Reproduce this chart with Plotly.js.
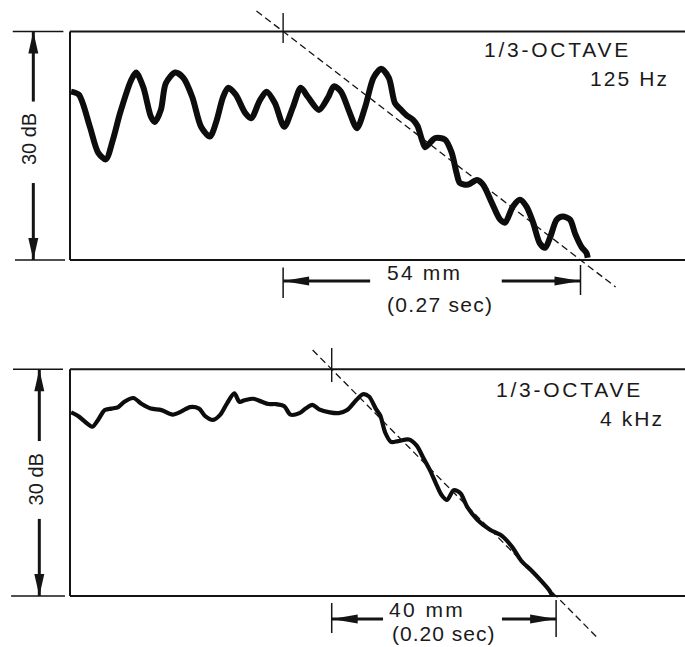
<!DOCTYPE html>
<html><head><meta charset="utf-8">
<script src="https://cdn.plot.ly/plotly-3.0.1.min.js"></script>
<style>html,body{margin:0;padding:0;background:#fff;}#chart{width:685px;height:647px;}</style>
</head><body><div id="chart"></div>
<script>
// ---- data: level (dB above floor) vs chart distance (mm) ----
const dist125 = [0.2,1.6,3.6,5.1,6.5,7.8,9.1,11.1,12.0,13.3,14.7,15.4,16.5,17.4,19.1,20.6,22.2,23.8,25.4,26.5,27.8,28.7,30.1,31.8,32.9,34.5,35.7,37.2,38.9,40.5,41.9,43.2,45.2,46.9,47.9,49.2,50.8,52.1,53.6,55.1,56.5,57.9,59.0,60.0,61.1,62.3,63.1,63.9,64.5,66.3,68.1,69.3,70.2,70.8,72.3,73.9,75.0,76.6,78.1,79.0,80.4,81.7,82.9,84.1,85.3,86.3,87.2,88.4,89.5,90.8,91.7,92.9,93.8,94.0];
const level125 = [22.1,21.7,17.5,14.1,13.2,15.8,19.3,23.6,24.6,22.7,18.8,18.1,19.7,23.2,24.6,23.9,21.4,17.5,16.2,18.0,21.4,22.6,21.7,19.3,18.6,21.0,22.1,20.6,17.5,20.1,22.6,21.4,19.7,21.4,22.8,22.1,19.3,17.3,20.1,23.9,25.1,23.9,20.6,19.8,19.0,18.4,17.6,15.8,14.8,16.0,15.8,14.1,11.4,10.1,9.9,10.5,9.9,7.5,5.3,4.9,7.0,7.9,7.0,4.9,2.2,1.6,3.0,5.3,5.7,5.3,3.5,1.7,0.9,0.3];
const dist4k = [0.2,1.5,3.1,4.0,5.0,6.2,7.4,8.6,9.7,11.3,12.8,14.4,16.3,18.3,19.8,21.4,23.0,24.1,25.5,26.8,28.0,29.3,30.2,31.1,32.7,34.2,35.4,36.7,38.2,39.3,40.9,42.0,43.2,44.4,46.3,47.9,49.4,51.0,52.2,53.3,54.5,55.3,56.2,57.2,58.5,60.4,61.8,62.9,64.2,65.4,66.3,67.2,68.4,69.6,70.8,72.6,74.8,77.1,78.8,80.4,82.2,84.0,85.4,86.0];
const level4k = [24.3,23.8,22.8,22.4,23.3,24.6,24.8,25.0,25.7,26.2,25.4,24.8,24.6,24.0,24.4,25.0,24.8,23.8,23.3,24.0,25.5,26.8,25.7,25.9,26.1,25.7,25.4,25.4,25.1,24.0,24.2,24.8,25.3,24.7,24.3,24.2,24.6,25.9,26.7,26.4,24.8,23.9,21.6,20.4,20.5,20.7,19.9,18.4,16.6,14.6,13.3,12.7,14.0,13.6,11.8,10.1,8.8,7.9,6.5,4.7,3.4,2.0,0.8,0.0];

const bandHeader = ['1/3-OCTAVE', '1/3-OCTAVE'];
const bandNames = ['125 Hz', '4 kHz'];
const spanMM = [54, 40];               // decay span read on chart
const spanSec = ['0.27', '0.20'];       // equivalent time
const fitStartMM = [38.7, 46.65];       // where fitted decay line crosses 30 dB
const rangeDB = 30;
const rangeLabel = '30 dB';

// ---- layout geometry ----
const W = 685, H = 647;
const panels = [
  {xa:'x', ya:'y', xr:[-12.711,111.675], yr:[-8.34,34.13], dom:[0.5,1], lw:6,
   arrowX:-6.66, labelX:-7.4, labelY:15.9, upTail:20.8, lowTail:10.1,
   extTop:[-10.4,-1.2], extBot:[-10.0,-0.9], dashY:[32.69,-3.54], tickY:[32.43,28.49],
   dimL:[-1.0,-5.0], dimR:[-0.66,-4.6], dimY:-2.76, tailL:54.5, tailR:78.4,
   t1:[64.4,-1.68], t2:[67.2,-5.78], h1:[88.6,27.6], h2:[101.6,23.85],
   sp:[2.2,1.3,2.75,2.1]},
  {xa:'x2', ya:'y2', xr:[-12.478,109.626], yr:[-6.75,36.06], dom:[0,0.5], lw:4.2,
   arrowX:-5.47, labelX:-6.1, labelY:15.4, upTail:20.5, lowTail:10.2,
   extTop:[-10.16,-1.25], extBot:[-10.5,-0.9], dashY:[32.55,-5.43], tickY:[32.82,28.32],
   dimL:[-0.93,-4.9], dimR:[-0.53,-5.43], dimY:-3.04, tailL:55.8, tailR:77.0,
   t1:[63.64,-1.85], t2:[66.6,-5.0], h1:[88.95,27.35], h2:[100.2,23.5],
   sp:[2.4,1.0,2.75,2.1]}
];
const dists = [dist125, dist4k], levels = [level125, level4k];
const INK = '#141414';
const FONT = 'Liberation Sans, Arial, Helvetica, sans-serif';

const traces = [], shapes = [], annotations = [];
function line(p, x0, y0, x1, y1, w, dash) {
  shapes.push({type:'line', xref:p.xa, yref:p.ya, x0, y0, x1, y1,
    line:{color:INK, width:w, dash:dash||'solid'}, layer:'above'});
}
function head(p, tx, ty, dir, L, Wd) {
  const sx = W / (p.xr[1]-p.xr[0]);
  const sy = H*(p.dom[1]-p.dom[0]) / (p.yr[1]-p.yr[0]);
  let path;
  if (dir==='left' || dir==='right') {
    const bx = tx + (dir==='left'?1:-1)*L/sx, w = Wd/sy;
    path = `M${tx},${ty} L${bx},${ty+w} L${bx},${ty-w} Z`;
  } else {
    const by = ty + (dir==='down'?1:-1)*L/sy, w = Wd/sx;
    path = `M${tx},${ty} L${tx+w},${by} L${tx-w},${by} Z`;
  }
  shapes.push({type:'path', xref:p.xa, yref:p.ya, path, fillcolor:INK, line:{width:0}, layer:'above'});
}
function label(p, x, y, text, size, spacing, angle) {
  annotations.push({xref:p.xa, yref:p.ya, x, y, showarrow:false, xanchor:'center', yanchor:'middle',
    text: spacing ? `<span style="letter-spacing:${spacing}px">${text}</span>` : text,
    textangle: angle||0, font:{family:FONT, size, color:'#1a1a1a'}});
}

panels.forEach((p, i) => {
  traces.push({type:'scatter', mode:'lines', x:dists[i], y:levels[i], xaxis:p.xa, yaxis:p.ya,
    line:{color:'#0d0d0d', width:p.lw, shape:'spline', smoothing:0.8}, hoverinfo:'skip'});
  const xEnd = p.xr[1];
  // frame
  line(p, 0, rangeDB, xEnd, rangeDB, 2);
  line(p, 0, 0, xEnd, 0, 2);
  line(p, 0, 0, 0, rangeDB, 2);
  // left 30 dB dimension
  line(p, p.extTop[0], rangeDB, p.extTop[1], rangeDB, 1.6);
  line(p, p.extBot[0], 0, p.extBot[1], 0, 1.6);
  line(p, p.arrowX, rangeDB, p.arrowX, p.upTail, 3);
  line(p, p.arrowX, 0, p.arrowX, p.lowTail, 3);
  head(p, p.arrowX, rangeDB, 'up', 22, 5);
  head(p, p.arrowX, 0, 'down', 22, 5);
  label(p, p.labelX, p.labelY, rangeLabel, 20, 0, -90);
  // fitted decay line
  const x0 = fitStartMM[i], x1 = fitStartMM[i] + spanMM[i];
  const xAt = y => x0 + (rangeDB - y) * spanMM[i] / rangeDB;
  line(p, xAt(p.dashY[0]), p.dashY[0], xAt(p.dashY[1]), p.dashY[1], 1.3, '7px,4px');
  line(p, x0, p.tickY[0], x0, p.tickY[1], 1.4);
  // span dimension
  line(p, x0, p.dimL[0], x0, p.dimL[1], 1.5);
  line(p, x1, p.dimR[0], x1, p.dimR[1], 1.5);
  line(p, x0, p.dimY, p.tailL, p.dimY, 3);
  line(p, p.tailR, p.dimY, x1, p.dimY, 3);
  head(p, x0, p.dimY, 'left', 26, 4.5);
  head(p, x1, p.dimY, 'right', 26, 4.5);
  label(p, p.t1[0], p.t1[1], spanMM[i] + ' mm', 21, p.sp[0]);
  label(p, p.t2[0], p.t2[1], '(' + spanSec[i] + ' sec)', 21, p.sp[1]);
  // band labels
  label(p, p.h1[0], p.h1[1], bandHeader[i], 21, p.sp[2]);
  label(p, p.h2[0], p.h2[1], bandNames[i], 21, p.sp[3]);
});

const ax = (r, anchor, extra) => Object.assign({range:r, anchor, visible:false, fixedrange:true,
  showgrid:false, zeroline:false}, extra||{});
const layout = {
  width:W, height:H, margin:{l:0, r:0, t:0, b:0},
  paper_bgcolor:'#ffffff', plot_bgcolor:'#ffffff', showlegend:false,
  xaxis: ax(panels[0].xr, 'y', {domain:[0,1]}),
  yaxis: ax(panels[0].yr, 'x', {domain:panels[0].dom}),
  xaxis2: ax(panels[1].xr, 'y2', {domain:[0,1]}),
  yaxis2: ax(panels[1].yr, 'x2', {domain:panels[1].dom}),
  shapes, annotations
};
Plotly.newPlot('chart', traces, layout, {staticPlot:true, displayModeBar:false});
</script>
</body></html>
